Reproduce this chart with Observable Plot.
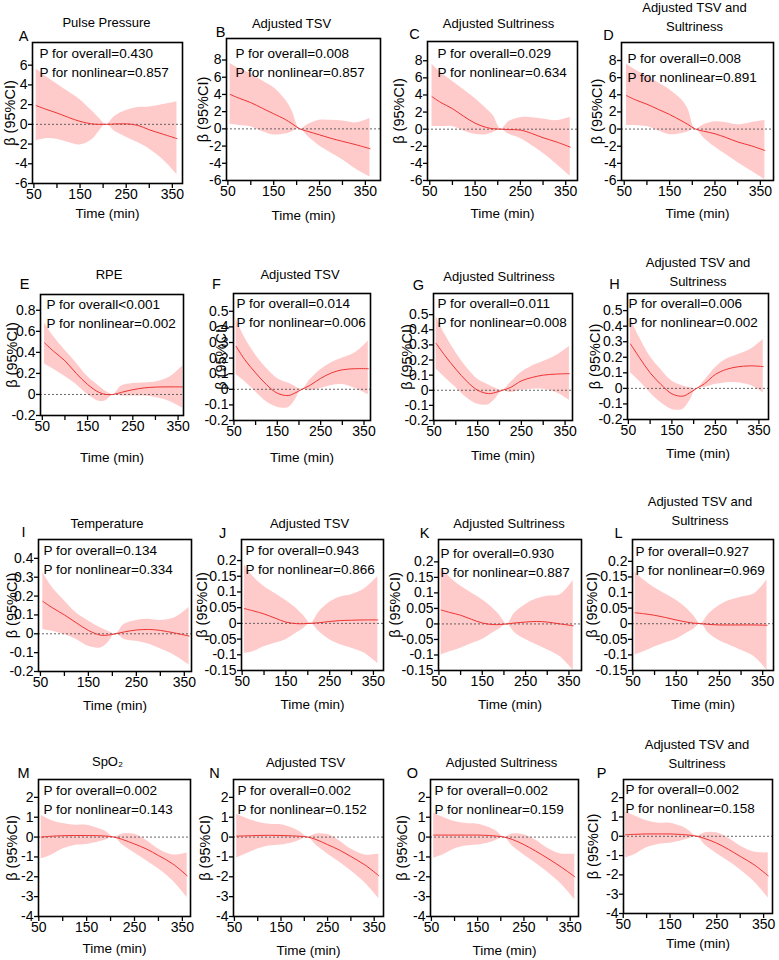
<!DOCTYPE html>
<html>
<head>
<meta charset="utf-8">
<script src="https://cdn.jsdelivr.net/npm/d3@7"></script>
<script src="https://cdn.jsdelivr.net/npm/@observablehq/plot@0.6"></script>
<style>
  body { margin: 0; background: #fff; }
  #fig { position: relative; width: 779px; height: 960px; overflow: hidden; background: #fff; }
  #fig svg { position: absolute; overflow: visible; }
</style>
</head>
<body>
<div id="fig"></div>
<script>
// Sampling times (min) of the fitted spline curves
const time = [55, 75, 100, 125, 150, 175, 190, 207, 225, 250, 275, 300, 330, 360];

// Axis tick values
const xMajor = [50, 150, 250, 350];
const xMinor = [100, 200, 300];
const ticksPulse = [-6, -4, -2, 0, 2, 4, 6];
const ticksPulseAdj = [-6, -4, -2, 0, 2, 4, 6, 8];
const ticksRpe = [-0.2, 0, 0.2, 0.4, 0.6, 0.8];
const ticksRpeAdj = [-0.2, -0.1, 0, 0.1, 0.2, 0.3, 0.4, 0.5];
const ticksTemp = [-0.2, -0.1, 0, 0.1, 0.2, 0.3, 0.4];
const ticksTempAdj = [-0.15, -0.1, -0.05, 0, 0.05, 0.1, 0.15, 0.2];
const ticksSpo2 = [-4, -3, -2, -1, 0, 1, 2];

// Panel headings and test results
const panelIds = ["A","B","C","D","E","F","G","H","I","J","K","L","M","N","O","P"];
const titles = [
  "Pulse Pressure", "Adjusted TSV", "Adjusted Sultriness", "Adjusted TSV and\nSultriness",
  "RPE", "Adjusted TSV", "Adjusted Sultriness", "Adjusted TSV and\nSultriness",
  "Temperature", "Adjusted TSV", "Adjusted Sultriness", "Adjusted TSV and\nSultriness",
  "SpO₂", "Adjusted TSV", "Adjusted Sultriness", "Adjusted TSV and\nSultriness"
];
const pOverall = [
  "P for overall=0.430", "P for overall=0.008", "P for overall=0.029", "P for overall=0.008",
  "P for overall<0.001", "P for overall=0.014", "P for overall=0.011", "P for overall=0.006",
  "P for overall=0.134", "P for overall=0.943", "P for overall=0.930", "P for overall=0.927",
  "P for overall=0.002", "P for overall=0.002", "P for overall=0.002", "P for overall=0.002"
];
const pNonlinear = [
  "P for nonlinear=0.857", "P for nonlinear=0.857", "P for nonlinear=0.634", "P for nonlinear=0.891",
  "P for nonlinear=0.002", "P for nonlinear=0.006", "P for nonlinear=0.008", "P for nonlinear=0.002",
  "P for nonlinear=0.334", "P for nonlinear=0.866", "P for nonlinear=0.887", "P for nonlinear=0.969",
  "P for nonlinear=0.143", "P for nonlinear=0.152", "P for nonlinear=0.159", "P for nonlinear=0.158"
];

// β estimates with lower / upper 95% CI at each sampling time
const estA = [1.9, 1.55, 1.15, 0.7, 0.3, 0.05, 0.0, 0, 0.03, 0.05, -0.1, -0.55, -1.0, -1.45];
const loA  = [-1.65, -1.45, -1.5, -1.85, -2.1, -1.6, -0.8, 0, -0.7, -1.3, -1.85, -2.5, -3.6, -5.1];
const hiA  = [5.6, 4.9, 4.1, 3.3, 2.5, 1.4, 0.7, 0, 0.8, 1.4, 1.7, 1.75, 2.0, 2.3];

const estB = [4.0, 3.55, 3.05, 2.4, 1.75, 1.1, 0.6, 0, -0.3, -0.7, -1.1, -1.45, -1.85, -2.3];
const loB  = [0.5, 0.4, 0.25, -0.3, -0.7, -0.6, -0.35, 0, -0.9, -2.0, -2.8, -3.6, -4.7, -5.6];
const hiB  = [7.6, 7.0, 6.4, 5.6, 4.8, 3.4, 2.1, 0, 0.5, 1.0, 1.0, 0.9, 0.7, 1.2];

const estC = [3.8, 3.1, 2.4, 1.5, 0.7, 0.2, 0.05, 0, -0.05, -0.1, -0.5, -1.0, -1.5, -2.1];
const loC  = [0.3, 0.3, 0.3, -0.2, -0.6, -0.65, -0.4, 0, -0.6, -1.1, -1.9, -2.8, -4.1, -5.5];
const hiC  = [7.6, 6.6, 5.6, 4.6, 3.6, 2.4, 1.6, 0, 0.9, 1.35, 1.35, 1.2, 1.0, 1.4];

const estD = [3.9, 3.4, 2.9, 2.3, 1.7, 1.0, 0.55, 0, -0.25, -0.55, -1.0, -1.5, -1.95, -2.5];
const loD  = [0.4, 0.4, 0.3, -0.2, -0.65, -0.55, -0.35, 0, -1.0, -2.1, -3.0, -3.9, -4.9, -5.9];
const hiD  = [7.6, 6.9, 6.2, 5.4, 4.6, 3.5, 2.4, 0, 0.5, 0.85, 0.75, 0.5, 0.75, 1.0];

const estE = [0.49, 0.41, 0.32, 0.2, 0.095, 0.02, 0.0, 0, 0.02, 0.045, 0.062, 0.07, 0.072, 0.072];
const loE  = [0.29, 0.24, 0.17, 0.095, 0.0, -0.065, -0.06, 0, -0.015, -0.015, -0.015, -0.03, -0.065, -0.13];
const hiE  = [0.68, 0.55, 0.42, 0.3, 0.17, 0.08, 0.03, 0, 0.08, 0.105, 0.11, 0.118, 0.16, 0.27];

const estF = [0.275, 0.19, 0.105, 0.03, -0.025, -0.04, -0.025, 0, 0.025, 0.07, 0.105, 0.125, 0.132, 0.132];
const loF  = [0.095, 0.05, -0.015, -0.08, -0.115, -0.118, -0.075, 0, -0.01, 0.005, 0.025, 0.03, 0.005, -0.035];
const hiF  = [0.45, 0.33, 0.22, 0.135, 0.07, 0.04, 0.02, 0, 0.06, 0.125, 0.17, 0.2, 0.235, 0.31];

const estG = [0.31, 0.23, 0.14, 0.06, 0.0, -0.022, -0.015, 0, 0.018, 0.062, 0.085, 0.1, 0.107, 0.11];
const loG  = [0.14, 0.085, 0.018, -0.05, -0.093, -0.095, -0.06, 0, -0.015, 0.0, 0.007, 0.007, -0.015, -0.067];
const hiG  = [0.49, 0.37, 0.25, 0.15, 0.073, 0.035, 0.015, 0, 0.05, 0.118, 0.16, 0.19, 0.23, 0.29];

const estH = [0.285, 0.2, 0.1, 0.025, -0.035, -0.05, -0.03, 0, 0.03, 0.09, 0.122, 0.138, 0.145, 0.14];
const loH  = [0.1, 0.047, -0.028, -0.093, -0.135, -0.135, -0.085, 0, 0.005, 0.026, 0.037, 0.037, 0.02, -0.028];
const hiH  = [0.45, 0.33, 0.205, 0.12, 0.047, 0.015, 0.005, 0, 0.05, 0.133, 0.187, 0.215, 0.25, 0.315];

const estI = [0.172, 0.138, 0.1, 0.058, 0.018, -0.007, -0.007, 0, 0.01, 0.02, 0.023, 0.018, 0.004, -0.012];
const loI  = [0.022, 0.014, -0.004, -0.03, -0.066, -0.075, -0.05, 0, -0.03, -0.04, -0.054, -0.08, -0.115, -0.165];
const hiI  = [0.325, 0.245, 0.175, 0.11, 0.068, 0.032, 0.015, 0, 0.05, 0.07, 0.077, 0.07, 0.085, 0.14];

const estJ = [0.047, 0.04, 0.03, 0.017, 0.004, -0.001, -0.001, 0, 0.002, 0.006, 0.009, 0.01, 0.011, 0.011];
const loJ  = [-0.095, -0.09, -0.074, -0.063, -0.052, -0.03, -0.017, 0, -0.025, -0.052, -0.068, -0.079, -0.095, -0.128];
const hiJ  = [0.187, 0.149, 0.117, 0.095, 0.073, 0.046, 0.025, 0, 0.035, 0.067, 0.084, 0.091, 0.11, 0.149];

const estK = [0.045, 0.037, 0.028, 0.015, 0.003, -0.002, -0.002, 0, 0.003, 0.006, 0.008, 0.006, 0.0, -0.006];
const loK  = [-0.1, -0.09, -0.078, -0.064, -0.05, -0.028, -0.016, 0, -0.028, -0.05, -0.067, -0.083, -0.106, -0.15];
const hiK  = [0.18, 0.15, 0.122, 0.1, 0.078, 0.05, 0.028, 0, 0.035, 0.063, 0.08, 0.089, 0.094, 0.14];

const estL = [0.035, 0.032, 0.027, 0.02, 0.012, 0.005, 0.002, 0, -0.002, -0.004, -0.004, -0.004, -0.004, -0.005];
const loL  = [-0.1, -0.09, -0.075, -0.062, -0.05, -0.03, -0.018, 0, -0.03, -0.055, -0.07, -0.085, -0.105, -0.15];
const hiL  = [0.165, 0.14, 0.115, 0.095, 0.075, 0.048, 0.026, 0, 0.03, 0.058, 0.075, 0.085, 0.095, 0.14];

const estM = [0.0, 0.04, 0.07, 0.08, 0.08, 0.07, 0.05, 0, -0.12, -0.35, -0.6, -0.93, -1.35, -1.95];
const loM  = [-1.1, -0.93, -0.6, -0.42, -0.37, -0.25, -0.15, 0, -0.4, -0.8, -1.19, -1.6, -2.2, -3.05];
const hiM  = [1.1, 0.85, 0.68, 0.6, 0.6, 0.43, 0.28, 0, 0.15, 0.14, -0.17, -0.6, -0.9, -0.8];

const estN = [0.05, 0.06, 0.08, 0.09, 0.08, 0.06, 0.04, 0, -0.12, -0.38, -0.65, -0.98, -1.4, -1.95];
const loN  = [-1.05, -0.85, -0.6, -0.45, -0.4, -0.28, -0.17, 0, -0.4, -0.85, -1.25, -1.7, -2.3, -3.1];
const hiN  = [1.15, 0.95, 0.75, 0.65, 0.62, 0.45, 0.28, 0, 0.15, 0.13, -0.18, -0.6, -0.9, -0.85];

const estO = [0.1, 0.1, 0.1, 0.1, 0.1, 0.08, 0.05, 0, -0.12, -0.38, -0.7, -1.05, -1.5, -2.0];
const loO  = [-1.05, -0.9, -0.6, -0.45, -0.4, -0.28, -0.17, 0, -0.45, -0.9, -1.3, -1.75, -2.35, -3.15];
const hiO  = [1.2, 1.0, 0.78, 0.68, 0.65, 0.48, 0.3, 0, 0.15, 0.12, -0.15, -0.55, -0.85, -0.85];

const estP = [0.08, 0.1, 0.12, 0.12, 0.12, 0.09, 0.06, 0, -0.12, -0.36, -0.68, -1.04, -1.48, -2.05];
const loP  = [-1.12, -0.95, -0.6, -0.42, -0.36, -0.23, -0.13, 0, -0.45, -0.9, -1.3, -1.74, -2.36, -3.2];
const hiP  = [1.27, 1.05, 0.8, 0.68, 0.68, 0.5, 0.3, 0, 0.18, 0.18, -0.1, -0.5, -0.82, -0.86];

const series = {
  A: [estA, loA, hiA], B: [estB, loB, hiB], C: [estC, loC, hiC], D: [estD, loD, hiD],
  E: [estE, loE, hiE], F: [estF, loF, hiF], G: [estG, loG, hiG], H: [estH, loH, hiH],
  I: [estI, loI, hiI], J: [estJ, loJ, hiJ], K: [estK, loK, hiK], L: [estL, loL, hiL],
  M: [estM, loM, hiM], N: [estN, loN, hiN], O: [estO, loO, hiO], P: [estP, loP, hiP]
};
const yTicks = {
  A: ticksPulse, B: ticksPulseAdj, C: ticksPulseAdj, D: ticksPulseAdj,
  E: ticksRpe, F: ticksRpeAdj, G: ticksRpeAdj, H: ticksRpeAdj,
  I: ticksTemp, J: ticksTempAdj, K: ticksTempAdj, L: ticksTempAdj,
  M: ticksSpo2, N: ticksSpo2, O: ticksSpo2, P: ticksSpo2
};

// Plot frame on the page [left, right, top, bottom], scale domains,
// and offsets of the surrounding labels relative to the frame
const layout = {
  A: {box: [32, 182, 42, 183],  xd: [47, 372],   yd: [-6, 8.3],       letter: [-9, -2],  title: [-1, -16], ylab: 22, xlab: 30, ptext: [7, 15]},
  B: {box: [226, 380, 38, 180], xd: [47, 383],   yd: [-6, 10.5],      letter: [-6, -2],  title: [-12, -11], ylab: 23, xlab: 35, ptext: [9, 19]},
  C: {box: [427, 577, 41, 180], xd: [45, 376],   yd: [-6, 10.25],     letter: [-13, -3], title: [-4, -14], ylab: 28, xlab: 33, ptext: [10, 16]},
  D: {box: [621, 773, 42, 180], xd: [44, 379],   yd: [-6, 10.1],      letter: [-13, -3], title: [-3, -12], ylab: 24, xlab: 33, ptext: [6, 20]},
  E: {box: [40, 183, 294, 415], xd: [46, 362],   yd: [-0.2, 0.95],    letter: [-16, -6], title: [-3, -16], ylab: 28, xlab: 42, ptext: [6, 14]},
  F: {box: [233, 370, 293, 420], xd: [49, 365],  yd: [-0.2, 0.614],   letter: [-17, -5], title: [-2, -15], ylab: 12, xlab: 37, ptext: [3, 14]},
  G: {box: [433, 572, 293, 420], xd: [49, 367],  yd: [-0.2, 0.64],    letter: [-15, -4], title: [-4, -13], ylab: 26, xlab: 35, ptext: [4, 14]},
  H: {box: [627, 768, 293, 419], xd: [48, 372],  yd: [-0.2, 0.61],    letter: [-13, -5], title: [0, -8],   ylab: 32, xlab: 34, ptext: [1, 14]},
  I: {box: [38, 191, 539, 671], xd: [46, 365],   yd: [-0.2, 0.5],     letter: [-15, -3], title: [-8, -12], ylab: 26, xlab: 34, ptext: [5, 15]},
  J: {box: [241, 383, 539, 670], xd: [48.5, 373], yd: [-0.15, 0.267], letter: [-19, -2], title: [-3, -12], ylab: 39, xlab: 34, ptext: [4, 15]},
  K: {box: [438, 581, 539, 670], xd: [49, 379],  yd: [-0.15, 0.272],  letter: [-14, -2], title: [-1, -12], ylab: 43, xlab: 34, ptext: [2, 18]},
  L: {box: [632, 773, 539, 670], xd: [49, 375],  yd: [-0.15, 0.27],   letter: [-14, -2], title: [-3, -15], ylab: 40, xlab: 34, ptext: [3, 16]},
  M: {box: [38, 190, 779, 916], xd: [49.4, 367], yd: [-4, 2.9],       letter: [-15, -2], title: [-7, -14], ylab: 26, xlab: 32, ptext: [5, 15]},
  N: {box: [233, 383, 779, 916], xd: [48, 370],  yd: [-4, 2.9],       letter: [-19, -2], title: [-3, -13], ylab: 28, xlab: 34, ptext: [4, 15]},
  O: {box: [430, 578, 779, 916], xd: [48, 368],  yd: [-4, 2.9],       letter: [-18, -2], title: [-3, -13], ylab: 28, xlab: 34, ptext: [4, 15]},
  P: {box: [623, 772, 779, 913], xd: [50.6, 369], yd: [-4, 2.94],     letter: [-22, -2], title: [-1, -12], ylab: 30, xlab: 30, ptext: [2, 14]}
};

const FONT = "'Liberation Sans', Arial, Helvetica, sans-serif";
const M = {left: 52, right: 8, top: 52, bottom: 52};
const tickFmt = d => d3.format("~g")(d).replace("\u2212", "-");
const label = d => d;

function drawPanel(k, i) {
  const L = layout[k];
  const [x0, x1, y0, y1] = L.box;
  const [est, lo, hi] = series[k];
  const rows = time.map((t, j) => ({t, est: est[j], lo: lo[j], hi: hi[j]}));

  const chart = Plot.plot({
    width: (x1 - x0) + M.left + M.right,
    height: (y1 - y0) + M.top + M.bottom,
    marginLeft: M.left, marginRight: M.right, marginTop: M.top, marginBottom: M.bottom,
    x: {domain: L.xd},
    y: {domain: L.yd},
    style: {fontFamily: FONT, fontSize: "14px", color: "#000", background: "transparent", overflow: "visible"},
    marks: [
      Plot.areaY(rows, {x: "t", y1: "lo", y2: "hi", fill: "#ffcaca", curve: "catmull-rom"}),
      Plot.ruleY([0], {stroke: "#555", strokeWidth: 0.9, strokeDasharray: "2,2"}),
      Plot.lineY(rows, {x: "t", y: "est", stroke: "#ee3434", strokeWidth: 1, curve: "catmull-rom"}),
      Plot.frame({stroke: "#000", strokeWidth: 1.6}),
      Plot.axisY(yTicks[k], {tickSize: 4, tickPadding: 1, tickFormat: tickFmt, fontSize: 14, label: null, strokeWidth: 1.3}),
      Plot.axisX(xMajor, {tickSize: 5, tickPadding: 1, fontSize: 14, label: null, strokeWidth: 1.3}),
      Plot.axisX(xMinor, {tickSize: 5, tickFormat: () => "", label: null, strokeWidth: 1.3}),
      Plot.text([pOverall[i]], {text: label, frameAnchor: "top-left", dx: L.ptext[0], dy: L.ptext[1], textAnchor: "start", lineAnchor: "bottom", fontSize: 13.5}),
      Plot.text([pNonlinear[i]], {text: label, frameAnchor: "top-left", dx: L.ptext[0], dy: L.ptext[1] + 19, textAnchor: "start", lineAnchor: "bottom", fontSize: 13.5}),
      Plot.text([titles[i]], {text: label, frameAnchor: "top", dx: L.title[0], dy: L.title[1], textAnchor: "middle", lineAnchor: "bottom", lineHeight: 1.45, fontSize: 13}),
      Plot.text([k], {text: label, frameAnchor: "top-left", dx: L.letter[0], dy: L.letter[1], textAnchor: "middle", lineAnchor: "bottom", fontSize: 14.5}),
      Plot.text(["β (95%CI)"], {text: label, frameAnchor: "left", dx: -L.ylab, rotate: -90, textAnchor: "middle", lineAnchor: "middle", fontSize: 14.5}),
      Plot.text(["Time (min)"], {text: label, frameAnchor: "bottom", dy: L.xlab, textAnchor: "middle", lineAnchor: "middle", fontSize: 13.5})
    ]
  });
  chart.style.left = (x0 - M.left) + "px";
  chart.style.top = (y0 - M.top) + "px";
  chart.style.maxWidth = "none";
  document.getElementById("fig").appendChild(chart);
}

panelIds.forEach(drawPanel);
</script>
</body>
</html>
